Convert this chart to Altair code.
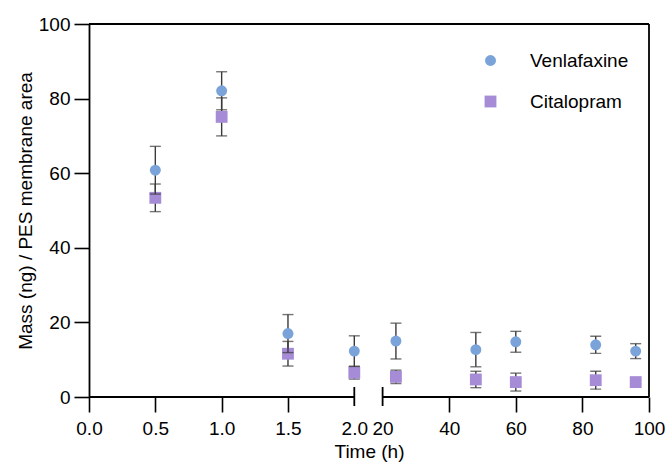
import altair as alt
import pandas as pd

# ---- data ----
time_h = [0.5, 1.0, 1.5, 2.0, 24, 48, 60, 84, 96]
venlafaxine_mean = [60.8, 82.1, 17.0, 12.3, 15.0, 12.7, 14.8, 14.0, 12.3]
venlafaxine_err = [6.4, 5.1, 5.1, 4.1, 4.8, 4.6, 2.8, 2.3, 2.0]
citalopram_mean = [53.4, 75.1, 11.6, 6.5, 5.4, 4.7, 4.0, 4.5, 4.0]
citalopram_err = [3.7, 5.1, 3.3, 1.7, 1.8, 2.2, 2.4, 2.4, 0.5]
series_names = ["Venlafaxine", "Citalopram"]
series_colors = ["#7AA3DA", "#A68BD6"]
series_shapes = ["circle", "square"]
series_sizes = [120, 140]
x_tick_values = [0, 0.5, 1.0, 1.5, 2.0, 20, 40, 60, 80, 100]
y_tick_values = [0, 20, 40, 60, 80, 100]
seg_start = [0, 20]
seg_end = [2, 100]
break_at = [2, 20]

rows = []
for name, means, errs in [("Venlafaxine", venlafaxine_mean, venlafaxine_err),
                          ("Citalopram", citalopram_mean, citalopram_err)]:
    for t, m, e in zip(time_h, means, errs):
        rows.append({"series": name, "time": t, "mean": m, "lo": m - e, "hi": m + e})
df = pd.DataFrame(rows)

W, H = 560, 373
FONT = "Liberation Sans"
FS = 19
ERR_COLOR = "#3a3a3a"

x_scale = alt.Scale(domain=[0, 2, 20, 100], range=[0, 265.3, 293.6, W], nice=False, zero=False)
y_scale = alt.Scale(domain=[0, 100], nice=False, zero=False)

x_axis = alt.Axis(
    title="Time (h)", values=x_tick_values,
    labelExpr="datum.value <= 2 ? format(datum.value, '.1f') : format(datum.value, 'd')",
    domain=False, grid=False, tickSize=15, tickWidth=1.6, tickColor="black",
    tickOpacity=alt.condition("datum.value == 2 || datum.value == 20", alt.value(0), alt.value(1)),
    labelFont=FONT, labelFontSize=FS, labelColor="black", labelPadding=7,
    titleFont=FONT, titleFontSize=FS, titleFontWeight="normal", titleColor="black", titlePadding=4,
    labelFlush=False, labelOverlap=False,
)
y_axis = alt.Axis(
    title="Mass (ng) / PES membrane area", values=y_tick_values,
    domain=True, domainColor="black", domainWidth=1.8, grid=False,
    tickSize=15, tickWidth=1.6, tickColor="black",
    labelFont=FONT, labelFontSize=FS, labelColor="black", labelPadding=4,
    titleFont=FONT, titleFontSize=FS, titleFontWeight="normal", titleColor="black", titlePadding=3,
)

base = alt.Chart(df)

color_enc = alt.Color("series:N", scale=alt.Scale(domain=series_names, range=series_colors),
                      legend=alt.Legend(title=None, orient="none", legendX=392, legendY=27,
                                        labelFont=FONT, labelFontSize=FS, labelColor="black",
                                        labelOffset=30, rowPadding=21, symbolSize=125,
                                        symbolStrokeWidth=0, padding=0))
shape_enc = alt.Shape("series:N", scale=alt.Scale(domain=series_names, range=series_shapes))
size_enc = alt.Size("series:N", scale=alt.Scale(domain=series_names, range=series_sizes), legend=None)


def err_layers(name):
    d = base.transform_filter(alt.datum.series == name)
    bar = d.mark_rule(color=ERR_COLOR, strokeWidth=1.4).encode(
        x=alt.X("time:Q", scale=x_scale, axis=x_axis),
        y=alt.Y("lo:Q", scale=y_scale, axis=y_axis),
        y2="hi:Q",
    )
    cap_hi = d.mark_tick(color=ERR_COLOR, orient="horizontal", size=11, thickness=1.4).encode(
        x="time:Q", y="hi:Q")
    cap_lo = d.mark_tick(color=ERR_COLOR, orient="horizontal", size=11, thickness=1.4).encode(
        x="time:Q", y="lo:Q")
    return [bar, cap_hi, cap_lo]


def point_layer(name):
    return base.transform_filter(alt.datum.series == name).mark_point(
        filled=True, opacity=1, strokeWidth=0).encode(
        x="time:Q", y="mean:Q", color=color_enc, shape=shape_enc, size=size_enc)


one = pd.DataFrame({"k": [0]})
segs = pd.DataFrame({"s": seg_start, "e": seg_end})
breaks = pd.DataFrame({"b": break_at})

domain_segs = alt.Chart(segs).mark_rule(color="black", strokeWidth=1.8).encode(
    x="s:Q", x2="e:Q", y=alt.datum(0))
break_ticks = alt.Chart(breaks).mark_rule(color="black", strokeWidth=1.8).encode(
    x="b:Q", y=alt.value(H - 10), y2=alt.value(H + 9))
top_border = alt.Chart(one).mark_rule(color="black", strokeWidth=1.8).encode(
    x=alt.datum(0), x2=alt.datum(100), y=alt.datum(100))
right_border = alt.Chart(one).mark_rule(color="black", strokeWidth=1.8).encode(
    x=alt.datum(100), y=alt.datum(0), y2=alt.datum(100))

layers = (err_layers("Citalopram") + [point_layer("Citalopram")] +
          err_layers("Venlafaxine") + [point_layer("Venlafaxine")] +
          [domain_segs, break_ticks, top_border, right_border])

chart = alt.layer(*layers).resolve_scale(x="shared", y="shared").properties(
    width=W, height=H,
    autosize=alt.AutoSizeParams(type="none"),
    padding={"left": 89, "top": 24, "right": 665 - 89 - W, "bottom": 464 - 24 - H},
    background="white",
).configure_view(stroke=None)

chart.save("out.html", embed_options={"renderer": "svg", "actions": False})
